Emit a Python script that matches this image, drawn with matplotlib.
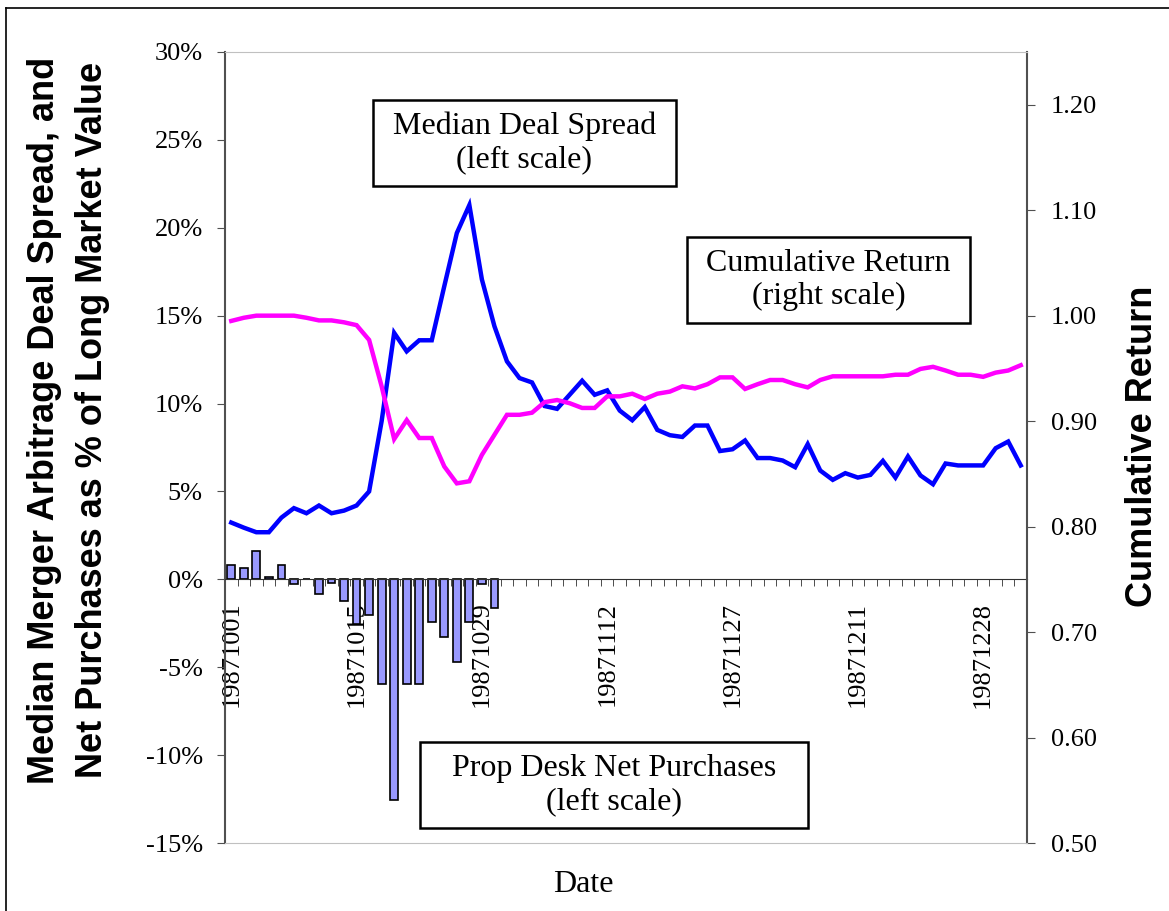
import numpy as np
import matplotlib
matplotlib.use("Agg")
import matplotlib.pyplot as plt
from matplotlib.patches import Rectangle
from matplotlib.lines import Line2D
from matplotlib.ticker import FuncFormatter

# trading days, Oct-Dec 1987
dates = ["19871001", "19871002", "19871005", "19871006", "19871007", "19871008", "19871009",
         "19871012", "19871013", "19871014", "19871015", "19871016", "19871019", "19871020",
         "19871021", "19871022", "19871023", "19871026", "19871027", "19871028", "19871029",
         "19871030", "19871102", "19871103", "19871104", "19871105", "19871106", "19871109",
         "19871110", "19871111", "19871112", "19871113", "19871116", "19871117", "19871118",
         "19871119", "19871120", "19871123", "19871124", "19871125", "19871127", "19871130",
         "19871201", "19871202", "19871203", "19871204", "19871207", "19871208", "19871209",
         "19871210", "19871211", "19871214", "19871215", "19871216", "19871217", "19871218",
         "19871221", "19871222", "19871223", "19871224", "19871228", "19871229", "19871230",
         "19871231"]

# median deal spread, % (left scale)
spread = [3.23, 2.94, 2.68, 2.68, 3.51, 4.05, 3.76, 4.20, 3.76, 3.91, 4.20, 5.00, 9.0,
          14.02, 12.97, 13.6, 13.6, 16.68, 19.7, 21.29, 17.06, 14.4, 12.4, 11.45, 11.2,
          9.86, 9.7, 10.5, 11.3, 10.5, 10.75, 9.6, 9.05, 9.8, 8.5, 8.2, 8.1, 8.75, 8.75,
          7.3, 7.4, 7.9, 6.9, 6.9, 6.76, 6.38, 7.69, 6.19, 5.66, 6.04, 5.79, 5.94, 6.74,
          5.79, 6.99, 5.91, 5.41, 6.59, 6.48, 6.48, 6.48, 7.46, 7.84, 6.48]

# cumulative return (right scale)
cumret = [0.995, 0.998, 1.000, 1.000, 1.000, 1.000, 0.998, 0.9955, 0.9955, 0.9937, 0.991,
          0.977, 0.933, 0.883, 0.901, 0.884, 0.884, 0.857, 0.841, 0.843, 0.868, 0.887,
          0.906, 0.906, 0.908, 0.918, 0.920, 0.917, 0.9125, 0.9125, 0.9235, 0.9235, 0.926,
          0.921, 0.926, 0.928, 0.933, 0.931, 0.935, 0.9415, 0.9415, 0.9305, 0.935, 0.939,
          0.939, 0.935, 0.932, 0.939, 0.9425, 0.9425, 0.9425, 0.9425, 0.9425, 0.944, 0.944,
          0.9495, 0.9515, 0.948, 0.944, 0.944, 0.942, 0.946, 0.948, 0.953]

# prop desk net purchases, % (left scale), only first days have data
net_purch = [0.82, 0.66, 1.61, 0.15, 0.82, -0.28, 0.0, -0.84, -0.19, -1.23, -2.56, -2.03,
             -5.94, -12.54, -5.94, -5.94, -2.45, -3.27, -4.73, -2.45, -0.27, -1.65]

left_ticks = [-15, -10, -5, 0, 5, 10, 15, 20, 25, 30]
right_ticks = [0.5, 0.6, 0.7, 0.8, 0.9, 1.0, 1.1, 1.2]

serif = "Liberation Serif"
narrow = ["Liberation Sans Narrow", "Liberation Sans"]

x = np.arange(len(dates))

fig = plt.figure(figsize=(11.69, 9.11), dpi=100)
ax = fig.add_axes([0.19247, 0.07464, 0.68606, 0.86828])

ax.bar(x[:len(net_purch)], net_purch, width=0.62, color="#9999ff",
       edgecolor="black", lw=1.2, zorder=2)
ax.plot(x, spread, color="#0000ff", lw=3.2, zorder=3, solid_joinstyle="miter")
ax.set_xlim(-0.5, len(dates) - 0.5)
ax.set_ylim(-15, 30)
ax.set_yticks(left_ticks)
ax.yaxis.set_major_formatter(FuncFormatter(lambda v, p: "%d%%" % v))

ax.spines["bottom"].set_position(("data", 0))
ax.spines["bottom"].set_color("#303030")
ax.spines["left"].set_color("#505050")
ax.spines["left"].set_linewidth(1.5)
ax.spines["top"].set_visible(False)
ax.spines["right"].set_visible(False)

ax.set_xticks(x[::10])
ax.set_xticklabels(dates[::10], rotation=90, fontfamily=serif, fontsize=19)
ax.set_xticks(np.arange(-0.5, len(dates)), minor=True)
ax.tick_params(axis="x", which="major", length=0, pad=16)
ax.tick_params(axis="x", which="minor", length=5, direction="out", color="#303030")
ax.tick_params(axis="y", length=6, direction="out", color="#505050", pad=10, labelsize=19)
for t in ax.get_yticklabels():
    t.set_fontfamily(serif)

ax2 = ax.twinx()
ax2.plot(x, cumret, color="#ff00ff", lw=3.2, zorder=3, solid_joinstyle="miter")
ax2.set_ylim(0.5, 1.25)
ax2.set_yticks(right_ticks)
ax2.yaxis.set_major_formatter(FuncFormatter(lambda v, p: "%.2f" % v))
ax2.tick_params(axis="y", length=6, direction="out", color="#505050", pad=11, labelsize=19)
for t in ax2.get_yticklabels():
    t.set_fontfamily(serif)
ax2.spines["left"].set_visible(False)
ax2.spines["right"].set_color("#505050")
ax2.spines["right"].set_linewidth(1.5)
ax2.spines["top"].set_color("#c0c0c0")
ax2.spines["bottom"].set_color("#c0c0c0")

# annotation boxes (axes fraction)
boxes = [
    ((0.1845, 0.8306, 0.3778, 0.1087), "Median Deal Spread\n(left scale)"),
    ((0.5760, 0.6574, 0.3529, 0.1087), "Cumulative Return\n(right scale)"),
    ((0.2431, 0.0190, 0.4838, 0.1087), "Prop Desk Net Purchases\n(left scale)"),
]
for (bx, by, bw, bh), label in boxes:
    ax2.add_patch(Rectangle((bx, by), bw, bh, transform=ax2.transAxes,
                            facecolor="white", edgecolor="black", lw=1.8, zorder=5))
    ax2.text(bx + bw / 2, by + bh / 2, label, transform=ax2.transAxes,
             ha="center", va="center", fontfamily=serif, fontsize=23,
             linespacing=1.2, zorder=6)

fig.text(0.0585, 0.539, "Median Merger Arbitrage Deal Spread, and\nNet Purchases as % of Long Market Value",
         rotation=90, ha="center", va="center", fontfamily=narrow, fontweight="bold",
         fontsize=26, linespacing=1.5)
fig.text(0.977, 0.51, "Cumulative Return", rotation=90, ha="center", va="center",
         fontfamily=narrow, fontweight="bold", fontsize=26)
fig.text(583 / 1169, 1 - 884 / 911, "Date", ha="center", va="center",
         fontfamily=serif, fontsize=23)

# outer chart border
fig.add_artist(Line2D([6 / 1169, 1.0], [1 - 8 / 911, 1 - 8 / 911], color="black", lw=1.2))
fig.add_artist(Line2D([6 / 1169, 6 / 1169], [0.0, 1 - 8 / 911], color="black", lw=1.2))

fig.savefig("out.png", dpi=100)
